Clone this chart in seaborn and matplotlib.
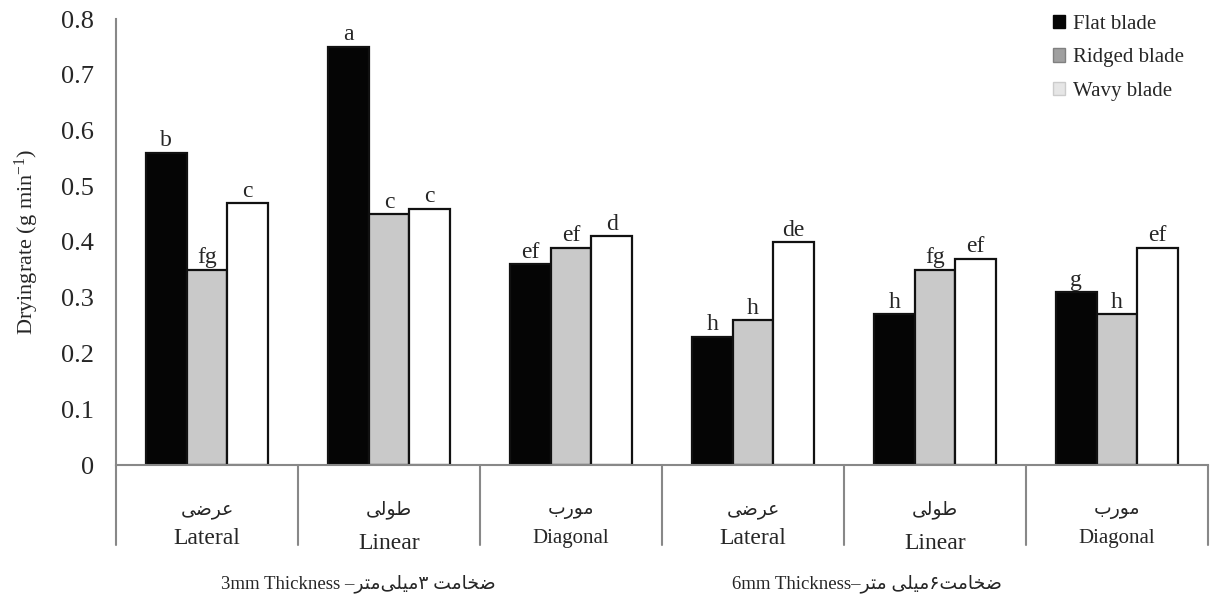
import numpy as np
import pandas as pd
import seaborn as sns
import matplotlib.pyplot as plt
import matplotlib.transforms as mtransforms
from matplotlib.patches import Patch

# data
categories = ['c1', 'c2', 'c3', 'c4', 'c5', 'c6']
blades = ['Flat blade', 'Ridged blade', 'Wavy blade']
flat = [0.56, 0.75, 0.36, 0.23, 0.27, 0.31]
ridged = [0.35, 0.45, 0.39, 0.26, 0.35, 0.27]
wavy = [0.47, 0.46, 0.41, 0.40, 0.37, 0.39]
flat_letters = ['b', 'a', 'ef', 'h', 'h', 'g']
ridged_letters = ['fg', 'c', 'ef', 'h', 'fg', 'h']
wavy_letters = ['c', 'c', 'd', 'de', 'ef', 'ef']

# arabic words written in shaped presentation forms, visual order
lateral_fa = '\uFEF0\uFEBF\uFEAE\uFECB'
linear_fa = '\uFEF0\uFEDF\uFEEE\uFEC3'
diag_fa = '\uFE8F\uFEAD\uFEEE\uFEE3'
cat_fa = [lateral_fa, linear_fa, diag_fa, lateral_fa, linear_fa, diag_fa]
cat_en = ['Lateral', 'Linear', 'Diagonal', 'Lateral', 'Linear', 'Diagonal']
zakhamat = '\uFE96\uFEE3\uFE8E\uFEA8\uFEBF'
mili = '\uFEF0\uFEE0\uFEF4\uFEE3'
metr = '\uFEAE\uFE98\uFEE3'
group_3mm = '3mm Thickness \u2013' + metr + mili + '\u06F3 ' + zakhamat
group_6mm = '6mm Thickness\u2013' + metr + ' ' + mili + '\u06F6' + zakhamat

df = pd.DataFrame({
    'cat': categories * 3,
    'blade': [b for b in blades for _ in categories],
    'rate': flat + ridged + wavy,
})

sns.set_style('white')
plt.rcParams['font.family'] = ['Liberation Serif', 'DejaVu Sans']
plt.rcParams['mathtext.fontset'] = 'custom'
plt.rcParams['mathtext.rm'] = 'Liberation Serif'
plt.rcParams['mathtext.it'] = 'Liberation Serif:italic'

fig = plt.figure(figsize=(12.1, 5.98), dpi=100)
ax = fig.add_axes([116 / 1210, 133 / 598, 1092 / 1210, 446 / 598])

palette = {'Flat blade': '#050505', 'Ridged blade': '#c9c9c9', 'Wavy blade': '#ffffff'}
sns.barplot(data=df, x='cat', y='rate', hue='blade', palette=palette, width=0.67,
            edgecolor='#111111', linewidth=1.6, saturation=1, legend=False, ax=ax)

for cont, labs in zip(ax.containers, [flat_letters, ridged_letters, wavy_letters]):
    ax.bar_label(cont, labels=labs, padding=1, fontsize=17)

ax.set_xlim(-0.5, 5.5)
ax.set_ylim(0, 0.8)
ax.set_yticks(np.arange(0, 0.81, 0.1))
ax.set_yticklabels(['0'] + ['%.1f' % v for v in np.arange(0.1, 0.81, 0.1)], fontsize=19)
ax.tick_params(axis='y', length=8, color='#888888', width=1.2, pad=8)
ax.set_xticks([])
ax.set_xlabel('')
ax.set_ylabel('Dryingrate (g min$^{-1}$)', fontsize=16, labelpad=14)
for s in ['top', 'right']:
    ax.spines[s].set_visible(False)
for s in ['left', 'bottom']:
    ax.spines[s].set_color('#888888')
    ax.spines[s].set_linewidth(1.5)

# category separators below the axis
trans = mtransforms.blended_transform_factory(ax.transData, ax.transAxes)
for xb in np.arange(-0.5, 6.0, 1.0):
    ax.plot([xb, xb], [0, -0.18], color='#888888', lw=1.5, transform=trans, clip_on=False)

for i, (fa, en) in enumerate(zip(cat_fa, cat_en)):
    ax.text(i, -0.099, fa, transform=trans, ha='center', va='center', fontsize=13.5,
            family=['DejaVu Sans'])
    size = 15 if en == 'Diagonal' else 17
    dy = -0.175 if en == 'Linear' else -0.164
    ax.text(i, dy, en, transform=trans, ha='center', va='center', fontsize=size)

fig.text(358 / 1210, 1 - 584 / 598, group_3mm, ha='center', va='center', fontsize=13.5)
fig.text(867 / 1210, 1 - 584 / 598, group_6mm, ha='center', va='center', fontsize=13.5)

# legend
handles = [Patch(facecolor='#050505', edgecolor='#050505'),
           Patch(facecolor='#a0a0a0', edgecolor='#808080'),
           Patch(facecolor='#e6e6e6', edgecolor='#cccccc')]
fig.legend(handles, blades, loc='upper left', bbox_to_anchor=(1034 / 1210, 1 + 4 / 598),
           frameon=False, fontsize=15, handlelength=0.6, handleheight=0.6,
           handletextpad=0.35, labelspacing=0.7)

fig.savefig('out.png', dpi=100)
